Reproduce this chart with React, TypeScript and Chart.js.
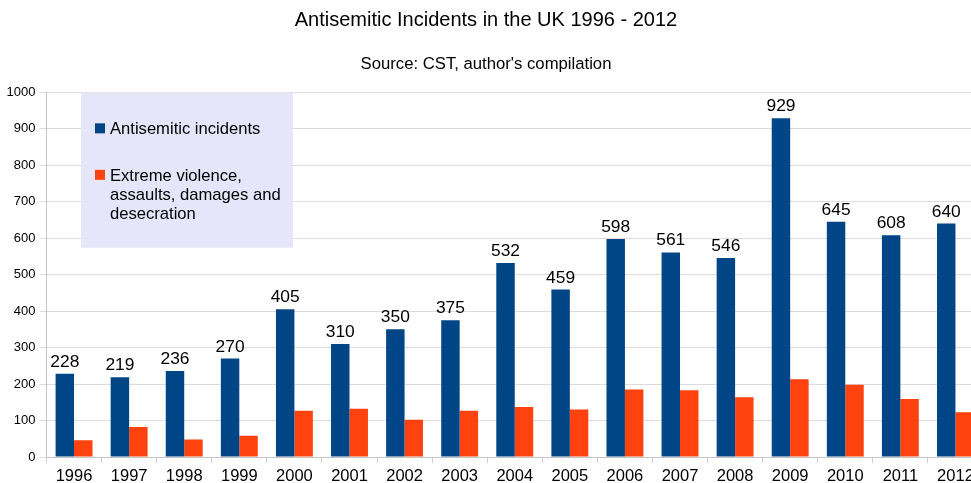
import React, { useEffect, useRef } from "react";
import { Chart, registerables } from "chart.js";

Chart.register(...registerables);

const years = ["1996", "1997", "1998", "1999", "2000", "2001", "2002", "2003", "2004", "2005", "2006", "2007", "2008", "2009", "2010", "2011", "2012"];
const incidents = [228, 219, 236, 270, 405, 310, 350, 375, 532, 459, 598, 561, 546, 929, 645, 608, 640];
const violence = [46, 82, 48, 58, 127, 132, 102, 127, 137, 130, 185, 183, 164, 213, 198, 159, 123];
const seriesLegendLines = [
  ["Antisemitic incidents"],
  ["Extreme violence,", "assaults, damages and", "desecration"],
];
const seriesColors = ["#004586", "#FF420E"];
const yMin = 0;
const yMax = 1000;
const yStep = 100;
const titleText = "Antisemitic Incidents in the UK 1996 - 2012";
const subtitleText = "Source: CST, author's compilation";

const FONT = '"Liberation Sans", Arial, sans-serif';
const SHIFT = 11;

const valueLabels = {
  id: "valueLabels",
  afterDatasetsDraw(chart: any) {
    const ctx = chart.ctx;
    const meta = chart.getDatasetMeta(0);
    const data = chart.data.datasets[0].data;
    ctx.save();
    ctx.font = `17.4px ${FONT}`;
    ctx.fillStyle = "#000";
    ctx.textAlign = "center";
    ctx.textBaseline = "alphabetic";
    meta.data.forEach((el: any, i: number) => {
      ctx.fillText(String(data[i]), el.x, el.y - 7);
    });
    ctx.restore();
  },
};

const boxLegend = {
  id: "boxLegend",
  afterDraw(chart: any) {
    const ctx = chart.ctx;
    const { left, top } = chart.chartArea;
    const bx = left + 34.5;
    const by = top;
    ctx.save();
    ctx.fillStyle = "#E6E6FA";
    ctx.fillRect(bx, by, 212, 155.4);
    ctx.font = `16.6px ${FONT}`;
    ctx.textAlign = "left";
    ctx.textBaseline = "alphabetic";
    let y = by + 41.7;
    chart.data.datasets.forEach((ds: any, i: number) => {
      const lines = seriesLegendLines[i];
      ctx.fillStyle = ds.backgroundColor;
      ctx.fillRect(bx + 14, y - 10.7, 10, 10);
      ctx.fillStyle = "#000";
      lines.forEach((line: string, j: number) => {
        ctx.fillText(line, bx + 29, y + j * 19);
      });
      y += lines.length * 19 + 27.5;
    });
    ctx.restore();
  },
};

export default function App() {
  const canvasRef = useRef<HTMLCanvasElement | null>(null);

  useEffect(() => {
    if (!canvasRef.current) return;
    const chart = new Chart(canvasRef.current, {
      type: "bar",
      data: {
        labels: years,
        datasets: [
          {
            label: seriesLegendLines[0].join(" "),
            data: incidents,
            backgroundColor: seriesColors[0],
            borderWidth: 0,
          },
          {
            label: seriesLegendLines[1].join(" "),
            data: violence,
            backgroundColor: seriesColors[1],
            borderWidth: 0,
          },
        ],
      },
      options: {
        animation: false,
        responsive: false,
        devicePixelRatio: 1,
        layout: { padding: 0 },
        datasets: {
          bar: { categoryPercentage: 0.67, barPercentage: 1 },
        },
        plugins: {
          legend: { display: false },
          tooltip: { enabled: false },
          title: {
            display: true,
            text: titleText,
            color: "#000",
            font: { family: FONT, size: 20, weight: "normal", lineHeight: 1.2 },
            padding: { top: 8.5, bottom: 0 },
          },
          subtitle: {
            display: true,
            text: subtitleText,
            color: "#000",
            font: { family: FONT, size: 16.7, weight: "normal", lineHeight: 1.2 },
            padding: { top: 22.3, bottom: 17.5 },
          },
        },
        scales: {
          x: {
            afterFit(scale: any) {
              scale.height = 30;
            },
            grid: {
              drawOnChartArea: false,
              drawTicks: true,
              tickLength: 6,
              offset: true,
              color: "#cfcfcf",
            },
            border: { display: true, color: "#c4c4c4" },
            ticks: {
              color: "#000",
              padding: 4,
              font: { family: FONT, size: 16.5 },
              maxRotation: 0,
              autoSkip: false,
            },
          },
          y: {
            min: yMin,
            max: yMax,
            afterFit(scale: any) {
              scale.width = 46.5 + SHIFT;
            },
            grid: {
              color: "#dcdcdc",
              tickLength: 7,
              drawTicks: true,
            },
            border: { display: true, color: "#c4c4c4" },
            ticks: {
              stepSize: yStep,
              color: "#000",
              padding: 4,
              font: { family: FONT, size: 13 },
              callback: (v: any) => String(v),
            },
          },
        },
      },
      plugins: [valueLabels, boxLegend],
    });
    return () => chart.destroy();
  }, []);

  return (
    <div
      style={{
        position: "absolute",
        left: 0,
        top: 0,
        width: 971,
        height: 483,
        overflow: "hidden",
        background: "#fff",
      }}
    >
      <canvas
        ref={canvasRef}
        width={983 + SHIFT}
        height={487}
        style={{
          width: 983 + SHIFT,
          height: 487,
          display: "block",
          position: "absolute",
          left: -SHIFT,
          top: 0,
        }}
      />
    </div>
  );
}
